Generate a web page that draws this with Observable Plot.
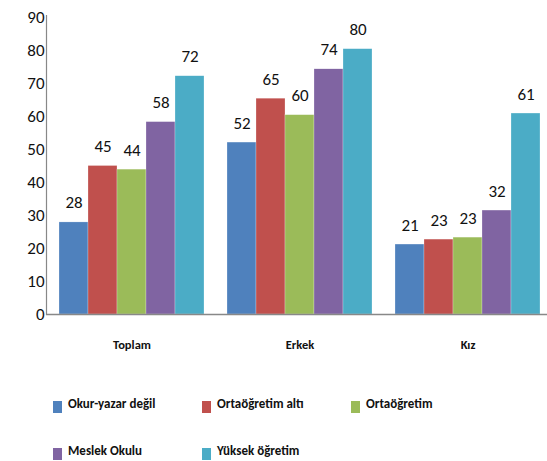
<!DOCTYPE html>
<html>
<head>
<meta charset="utf-8">
<script src="https://cdn.jsdelivr.net/npm/d3@7"></script>
<script src="https://cdn.jsdelivr.net/npm/@observablehq/plot@0.6"></script>
<style>
  body { margin: 0; background: #fff; overflow: hidden; width: 547px; height: 461px; }
  #chart { position: relative; width: 547px; height: 370px; overflow: hidden; }
  #chart svg { max-width: none !important; }
  #legend { position: relative; width: 547px; height: 91px; font-family: Carlito, "Liberation Sans Narrow", "DejaVu Sans Condensed", "Open Sans", sans-serif; font-weight: bold; font-size: 13px; color: #111; }
  .item { position: absolute; display: flex; align-items: center; }
  .sw { width: 9px; height: 12px; margin-right: 6px; margin-top: 8px; }
</style>
</head>
<body>
<div id="chart"></div>
<div id="legend"></div>
<script>
const groups = ["Toplam", "Erkek", "Kız"];
const series = ["Okur-yazar değil", "Ortaöğretim altı", "Ortaöğretim", "Meslek Okulu", "Yüksek öğretim"];
const colors = ["#4F81BD", "#C0504D", "#9BBB59", "#8064A2", "#4BACC6"];
const toplam = [27.9, 45.0, 43.9, 58.3, 72.2];
const erkek = [52.1, 65.4, 60.4, 74.3, 80.4];
const kiz = [21.2, 22.7, 23.3, 31.5, 60.9];
const yTicks = [0, 10, 20, 30, 40, 50, 60, 70, 80, 90];

const valuesByGroup = [toplam, erkek, kiz];
const data = [];
groups.forEach((g, gi) => series.forEach((s, si) => data.push({group: g, series: s, value: valuesByGroup[gi][si]})));

const font = 'Carlito, "Liberation Sans Narrow", "DejaVu Sans Condensed", "Open Sans", sans-serif';

const chart = Plot.plot({
  width: 553,
  height: 370,
  marginLeft: 46,
  marginRight: 0,
  marginTop: 17,
  marginBottom: 56,
  style: {fontFamily: font, background: "transparent", maxWidth: "none"},
  fx: {domain: groups, paddingInner: 0.134, paddingOuter: 0.071, label: null},
  x: {domain: series, padding: 0, axis: null},
  y: {domain: [0, 90], axis: null},
  color: {domain: series, range: colors},
  marks: [
    Plot.axisFx({anchor: "bottom", tickSize: 0, tickPadding: 26, fontSize: 12.5, fontWeight: "bold", label: null, fill: "#111"}),
    Plot.axisY({ticks: yTicks, tickSize: 0, tickPadding: 15, fontSize: 17, label: null, fill: "#111"}),
    Plot.barY(data, {fx: "group", x: "series", y: "value", fill: "series", stroke: "#fff", strokeWidth: 0.4, strokeOpacity: 0.6}),
    Plot.text(data, {fx: "group", x: "series", y: "value", text: d => d3.format(".0f")(d.value), dy: -14, lineAnchor: "bottom", fontSize: 17, fill: "#111"})
  ]
});

const ys = chart.scale("y");
const svg = d3.select(chart);
svg.append("line")
  .attr("x1", 46).attr("x2", 553)
  .attr("y1", ys.apply(0) + 0.5).attr("y2", ys.apply(0) + 0.5)
  .attr("stroke", "#888").attr("stroke-width", 1.5);
svg.append("line")
  .attr("x1", 46.5).attr("x2", 46.5)
  .attr("y1", ys.apply(90) - 2).attr("y2", ys.apply(0) + 1)
  .attr("stroke", "#888").attr("stroke-width", 1.2);

document.getElementById("chart").appendChild(chart);

const legend = document.getElementById("legend");
const pos = [[53, 33], [202, 33], [351, 33], [53, 80], [202, 80]];
series.forEach((s, i) => {
  const it = document.createElement("div");
  it.className = "item";
  it.style.left = pos[i][0] + "px";
  it.style.top = (pos[i][1] - 10) + "px";
  const sw = document.createElement("div");
  sw.className = "sw";
  sw.style.background = colors[i];
  const tx = document.createElement("span");
  tx.textContent = s;
  it.appendChild(sw);
  it.appendChild(tx);
  legend.appendChild(it);
});
</script>
</body>
</html>
